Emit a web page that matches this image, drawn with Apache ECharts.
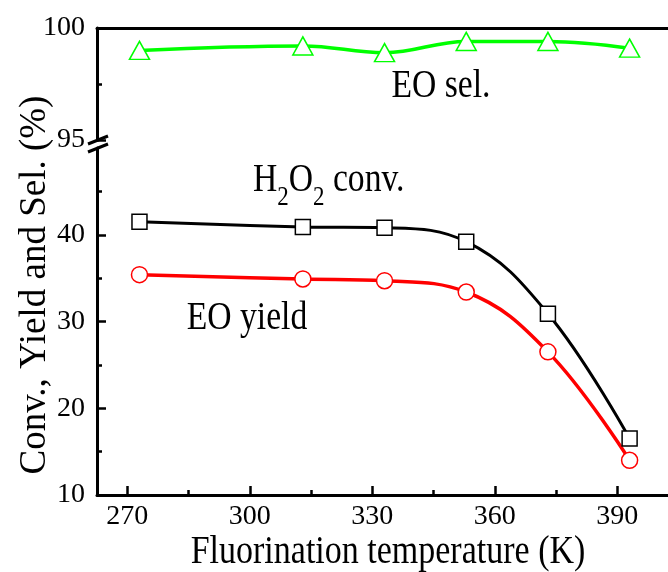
<!DOCTYPE html>
<html>
<head>
<meta charset="utf-8">
<script src="https://cdn.jsdelivr.net/npm/echarts@6/dist/echarts.min.js"></script>
<style>
  html, body { margin: 0; padding: 0; background: #fff; }
  #chart { width: 668px; height: 572px; }
</style>
</head>
<body>
<div id="chart"></div>
<script>
  // fluorination temperature (K)
  var temps = [273, 313, 333, 353, 373, 393]
  // H2O2 conversion, EO yield, EO selectivity (%)
  var h2o2Conv = [41.5, 40.9, 40.8, 39.2, 30.9, 16.5]
  var eoYield = [35.4, 34.9, 34.7, 33.4, 26.5, 14.0]
  var eoSel = [99.0, 99.2, 98.9, 99.4, 99.4, 99.1]
  // ticks
  var xMajorTicks = [270, 300, 330, 360, 390]
  var xMinorTicks = [285, 315, 345, 375]
  var yLowTicks = [10, 20, 30, 40]

  var FONT = 'Liberation Serif'
  var X_MIN = 262.6
  var X_MAX = 402.4

  function pairs (ys) {
    return temps.map(function (t, i) { return [t, ys[i]] })
  }

  var axisLine = { lineStyle: { color: '#000', width: 3 } }
  var labelStyle = { color: '#000', fontFamily: FONT, fontSize: 28 }

  var option = {
    animation: false,
    backgroundColor: '#fff',
    grid: [
      { left: 97, width: 575, top: 28, height: 112 },
      { left: 97, width: 575, top: 148, height: 347 }
    ],
    xAxis: [
      {
        gridIndex: 0, type: 'value', min: X_MIN, max: X_MAX, position: 'top',
        axisLine: axisLine, axisTick: { show: false }, axisLabel: { show: false },
        splitLine: { show: false }
      },
      {
        gridIndex: 1, type: 'value', min: X_MIN, max: X_MAX, position: 'bottom',
        axisLine: axisLine,
        axisTick: { inside: true, length: 9, customValues: xMajorTicks, lineStyle: { color: '#000', width: 2.5 } },
        axisLabel: Object.assign({ customValues: xMajorTicks, margin: 8 }, labelStyle),
        splitLine: { show: false }
      },
      {
        // minor ticks
        gridIndex: 1, type: 'value', min: X_MIN, max: X_MAX, position: 'bottom',
        axisLine: { show: false },
        axisTick: { inside: true, length: 5, customValues: xMinorTicks, lineStyle: { color: '#000', width: 2.5 } },
        axisLabel: { show: false },
        splitLine: { show: false }
      }
    ],
    yAxis: [
      {
        gridIndex: 0, type: 'value', min: 95, max: 100, interval: 5,
        axisLine: axisLine,
        axisTick: { inside: true, length: 9, lineStyle: { color: '#000', width: 2.5 } },
        minorTick: { show: true, splitNumber: 2, length: 5, lineStyle: { color: '#000', width: 2.5 } },
        axisLabel: Object.assign({ margin: 12 }, labelStyle),
        splitLine: { show: false }, minorSplitLine: { show: false }
      },
      {
        gridIndex: 1, type: 'value', min: 10, max: 50, interval: 10,
        axisLine: axisLine,
        axisTick: { inside: true, length: 9, customValues: yLowTicks, lineStyle: { color: '#000', width: 2.5 } },
        minorTick: { show: true, splitNumber: 2, length: 5, lineStyle: { color: '#000', width: 2.5 } },
        axisLabel: Object.assign({ margin: 12, customValues: yLowTicks }, labelStyle),
        splitLine: { show: false }, minorSplitLine: { show: false }
      }
    ],
    series: [
      {
        name: 'EO sel.', type: 'line', xAxisIndex: 0, yAxisIndex: 0,
        data: pairs(eoSel), smooth: 0.4,
        symbol: 'triangle', symbolSize: [20, 18],
        lineStyle: { color: '#00ff00', width: 3.5 },
        itemStyle: { color: '#fff', borderColor: '#00ff00', borderWidth: 1.5 }
      },
      {
        name: 'H2O2 conv.', type: 'line', xAxisIndex: 1, yAxisIndex: 1,
        data: pairs(h2o2Conv), smooth: 0.4,
        symbol: 'rect', symbolSize: 15,
        lineStyle: { color: '#000', width: 3 },
        itemStyle: { color: '#fff', borderColor: '#000', borderWidth: 1.5 }
      },
      {
        name: 'EO yield', type: 'line', xAxisIndex: 1, yAxisIndex: 1,
        data: pairs(eoYield), smooth: 0.4,
        symbol: 'circle', symbolSize: 16,
        lineStyle: { color: '#ff0000', width: 3.5 },
        itemStyle: { color: '#fff', borderColor: '#ff0000', borderWidth: 1.5 }
      }
    ],
    graphic: [
      // axis break marks
      { type: 'line', shape: { x1: 88, y1: 144, x2: 108, y2: 136 }, style: { stroke: '#000', lineWidth: 3 } },
      { type: 'line', shape: { x1: 88, y1: 152, x2: 108, y2: 144 }, style: { stroke: '#000', lineWidth: 3 } },
      // series labels
      {
        type: 'text', x: 441, y: 86, scaleX: 0.82,
        style: { text: 'EO sel.', font: '41px ' + FONT, fill: '#000', align: 'center', verticalAlign: 'middle' }
      },
      {
        type: 'text', x: 247, y: 318, scaleX: 0.82,
        style: { text: 'EO yield', font: '41px ' + FONT, fill: '#000', align: 'center', verticalAlign: 'middle' }
      },
      {
        type: 'text', x: 253, y: 186, scaleX: 0.82,
        style: {
          text: '{a|H}{b|2}{a|O}{b|2}{a| conv.}',
          align: 'left', verticalAlign: 'middle', fill: '#000',
          rich: {
            a: { fontFamily: FONT, fontSize: 41, padding: [0, 0, 11, 0], verticalAlign: 'bottom' },
            b: { fontFamily: FONT, fontSize: 28, verticalAlign: 'bottom' }
          }
        }
      },
      // axis titles
      {
        type: 'text', x: 388, y: 552, scaleX: 0.85,
        style: { text: 'Fluorination temperature (K)', font: '40px ' + FONT, fill: '#000', align: 'center', verticalAlign: 'middle' }
      },
      {
        type: 'text', x: 35, y: 285, rotation: Math.PI / 2,
        style: { text: 'Conv., Yield and Sel. (%)', font: '37px ' + FONT, fill: '#000', align: 'center', verticalAlign: 'middle' }
      }
    ]
  }

  var chart = echarts.init(document.getElementById('chart'))
  chart.setOption(option)
  window.addEventListener('resize', function () {
    chart.resize()
  })
</script>
</body>
</html>
